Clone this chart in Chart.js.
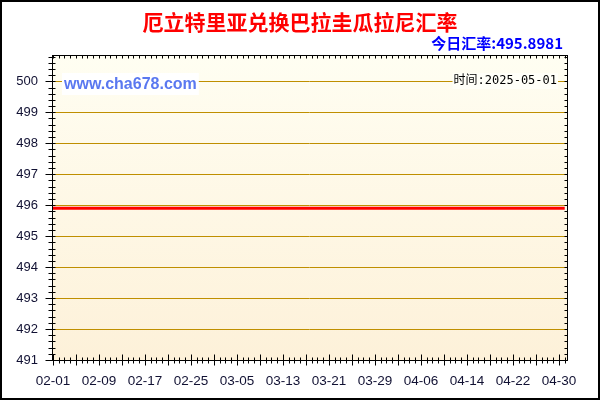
<!DOCTYPE html>
<html>
<head>
<meta charset="utf-8">
<script src="https://cdn.jsdelivr.net/npm/chart.js@4/dist/chart.umd.min.js"></script>
<style>
html,body{margin:0;padding:0;background:#fff;}
canvas{display:block;}
</style>
</head>
<body>
<canvas id="c" width="600" height="400"></canvas>
<script>
const titleText = '厄立特里亚兑换巴拉圭瓜拉尼汇率';
const subtitleText = '今日汇率:495.8981';
const watermarkText = 'www.cha678.com';
const dateText = '时间:2025-05-01';

const dates = [
'02-01','02-02','02-03','02-04','02-05','02-06','02-07','02-08','02-09','02-10',
'02-11','02-12','02-13','02-14','02-15','02-16','02-17','02-18','02-19','02-20',
'02-21','02-22','02-23','02-24','02-25','02-26','02-27','02-28',
'03-01','03-02','03-03','03-04','03-05','03-06','03-07','03-08','03-09','03-10',
'03-11','03-12','03-13','03-14','03-15','03-16','03-17','03-18','03-19','03-20',
'03-21','03-22','03-23','03-24','03-25','03-26','03-27','03-28','03-29','03-30','03-31',
'04-01','04-02','04-03','04-04','04-05','04-06','04-07','04-08','04-09','04-10',
'04-11','04-12','04-13','04-14','04-15','04-16','04-17','04-18','04-19','04-20',
'04-21','04-22','04-23','04-24','04-25','04-26','04-27','04-28','04-29','04-30',
'05-01'
];

const rates = [
495.8981,495.8981,495.8981,495.8981,495.8981,495.8981,495.8981,495.8981,495.8981,495.8981,
495.8981,495.8981,495.8981,495.8981,495.8981,495.8981,495.8981,495.8981,495.8981,495.8981,
495.8981,495.8981,495.8981,495.8981,495.8981,495.8981,495.8981,495.8981,
495.8981,495.8981,495.8981,495.8981,495.8981,495.8981,495.8981,495.8981,495.8981,495.8981,
495.8981,495.8981,495.8981,495.8981,495.8981,495.8981,495.8981,495.8981,495.8981,495.8981,
495.8981,495.8981,495.8981,495.8981,495.8981,495.8981,495.8981,495.8981,495.8981,495.8981,495.8981,
495.8981,495.8981,495.8981,495.8981,495.8981,495.8981,495.8981,495.8981,495.8981,495.8981,
495.8981,495.8981,495.8981,495.8981,495.8981,495.8981,495.8981,495.8981,495.8981,495.8981,
495.8981,495.8981,495.8981,495.8981,495.8981,495.8981,495.8981,495.8981,495.8981,495.8981,
495.8981
];

const yTicks = [491,492,493,494,495,496,497,498,499,500];
const xTickIdx = [0,8,16,24,32,40,48,56,64,72,80,88];
const yMin = 491, yMax = 500.85;

const points = rates.map((v,i)=>({x:i,y:v}));

const deco = {
  id:'deco',
  beforeDraw(chart){
    const {ctx, chartArea:a} = chart;
    ctx.save();
    ctx.fillStyle='#fff';
    ctx.fillRect(0,0,chart.width,chart.height);
    const g = ctx.createLinearGradient(0,a.top,0,a.bottom);
    g.addColorStop(0,'#FFFEF2');
    g.addColorStop(1,'#FDF1D9');
    ctx.fillStyle=g;
    ctx.fillRect(a.left,a.top,a.right-a.left,a.bottom-a.top);
    ctx.restore();
  },
  afterDraw(chart){
    const {ctx, chartArea:a} = chart;
    const xs = chart.scales.x, ys = chart.scales.y;
    ctx.save();
    // plot border
    ctx.strokeStyle='#000';
    ctx.lineWidth=1;
    ctx.strokeRect(Math.round(a.left)+0.5,Math.round(a.top)+0.5,Math.round(a.right-a.left),Math.round(a.bottom-a.top));
    // y ticks
    ctx.beginPath();
    const L = Math.round(a.left)+0.5, R = Math.round(a.right)+0.5, B = Math.round(a.bottom)+0.5, T = Math.round(a.top)+0.5;
    for(let k=0;k<=49;k++){
      const v = yMin + k*0.2;
      if(v>yMax+0.001) break;
      const y = Math.round(ys.getPixelForValue(v))+0.5;
      const major = Math.abs(v-Math.round(v))<0.01;
      ctx.moveTo(L-(major?7:4),y); ctx.lineTo(L+3,y);
      ctx.moveTo(R-3,y); ctx.lineTo(R,y);
    }
    // x ticks
    for(let i=0;i<dates.length;i++){
      const x = Math.round(xs.getPixelForValue(i))+0.5;
      const major = i%4===0;
      ctx.moveTo(x,B-(major?6:3)); ctx.lineTo(x,B+(major?5:3));
      ctx.moveTo(x,T); ctx.lineTo(x,T+3);
    }
    ctx.stroke();
    // outer border
    ctx.lineWidth=2;
    ctx.strokeRect(1,1,chart.width-2,chart.height-2);
    // title
    ctx.textBaseline='middle';
    ctx.textAlign='center';
    ctx.fillStyle='#FF0000';
    ctx.font='bold 21px "Noto Sans CJK SC", sans-serif';
    ctx.fillText(titleText,300,22);
    // subtitle
    ctx.textAlign='right';
    ctx.fillStyle='#0000FF';
    ctx.font='bold 15px "Noto Sans CJK SC", "Liberation Sans", sans-serif';
    ctx.fillText(subtitleText,563,43);
    // watermark
    ctx.font='bold 16px "Liberation Sans", Arial, sans-serif';
    const ww = ctx.measureText(watermarkText).width;
    ctx.fillStyle='#fff';
    ctx.fillRect(62,73,ww+4,22);
    ctx.textAlign='left';
    ctx.fillStyle='#5A78F0';
    ctx.fillText(watermarkText,64,85);
    // date
    ctx.font='12px "DejaVu Sans Mono", "Noto Sans CJK SC", monospace';
    const dw = ctx.measureText(dateText).width;
    ctx.fillStyle='#FFFFF8';
    ctx.fillRect(557-dw-1,73,dw+2,16);
    ctx.fillStyle='#000';
    ctx.textAlign='right';
    ctx.fillText(dateText,557,81);
    ctx.restore();
  }
};

new Chart(document.getElementById('c'),{
  type:'line',
  data:{datasets:[{
    data:points,
    borderColor:'#FF0000',
    borderWidth:3,
    pointRadius:0,
    tension:0,
    fill:false
  }]},
  options:{
    responsive:false,
    animation:false,
    devicePixelRatio:1,
    layout:{padding:{left:0,top:55,right:33,bottom:0}},
    plugins:{legend:{display:false},tooltip:{enabled:false},title:{display:false}},
    scales:{
      x:{
        type:'linear',
        min:-0.17,
        max:89.4,
        grid:{display:false,drawTicks:false},
        border:{display:false},
        afterBuildTicks(s){ s.ticks = xTickIdx.map(v=>({value:v})); },
        afterFit(s){ s.height = 40; },
        ticks:{
          autoSkip:false,
          maxRotation:0,
          padding:13,
          color:'#111133',
          font:{family:'"Liberation Sans", Arial, sans-serif',size:13.5},
          callback:(v)=>dates[v]
        }
      },
      y:{
        type:'linear',
        min:yMin,
        max:yMax,
        grid:{color:'#BF8F00',lineWidth:1,drawTicks:false},
        border:{display:false},
        afterBuildTicks(s){ s.ticks = yTicks.map(v=>({value:v})); },
        afterFit(s){ s.width = 52; },
        ticks:{
          padding:14,
          color:'#111133',
          font:{family:'"Liberation Sans", Arial, sans-serif',size:13},
          callback:(v)=>String(v)
        }
      }
    }
  },
  plugins:[deco]
});
</script>
</body>
</html>
